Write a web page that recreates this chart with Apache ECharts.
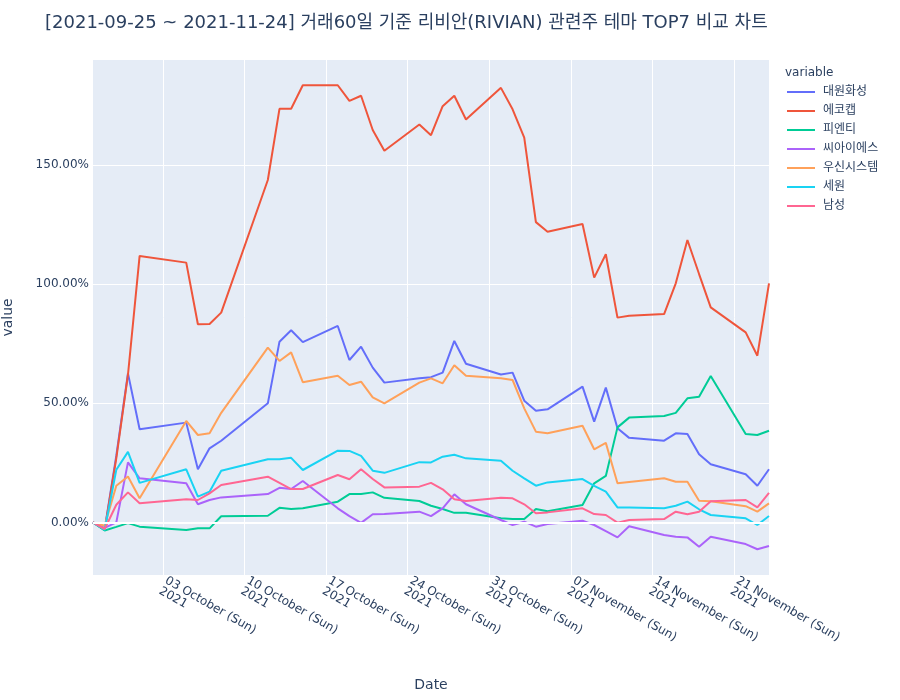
<!DOCTYPE html>
<html>
<head>
<meta charset="utf-8">
<script src="https://cdn.jsdelivr.net/npm/echarts@6/dist/echarts.min.js"></script>
<style>
  html, body { margin: 0; padding: 0; background: #fff; }
  #chart { width: 900px; height: 700px; }
</style>
</head>
<body>
<div id="chart"></div>
<script>
// trading days (KRX), values are % change from the first day
const dates = [
  '2021-09-27', '2021-09-28', '2021-09-29', '2021-09-30', '2021-10-01',
  '2021-10-05', '2021-10-06', '2021-10-07', '2021-10-08', '2021-10-12',
  '2021-10-13', '2021-10-14', '2021-10-15', '2021-10-18', '2021-10-19',
  '2021-10-20', '2021-10-21', '2021-10-22', '2021-10-25', '2021-10-26',
  '2021-10-27', '2021-10-28', '2021-10-29', '2021-11-01', '2021-11-02',
  '2021-11-03', '2021-11-04', '2021-11-05', '2021-11-08', '2021-11-09',
  '2021-11-10', '2021-11-11', '2021-11-12', '2021-11-15', '2021-11-16',
  '2021-11-17', '2021-11-18', '2021-11-19', '2021-11-22', '2021-11-23',
  '2021-11-24'
];

const names = ['대원화성', '에코캡', '피엔티', '씨아이에스', '우신시스템', '세원', '남성'];
const colors = ['#636efa', '#EF553B', '#00cc96', '#ab63fa', '#FFA15A', '#19d3f3', '#FF6692'];

const daewon = [0, -3, 28, 62.6, 39.1, 41.9, 22.3, 31.1, 34.3, 50, 75.9, 80.7, 75.7, 82.5, 68.2,
  73.8, 65, 58.7, 60.5, 61, 62.9, 76.2, 66.6, 62.1, 62.9, 51.1, 46.9, 47.5, 57, 42.3,
  56.6, 39.5, 35.5, 34.3, 37.4, 37.1, 28.6, 24.4, 20.2, 15.4, 22.3];
const ecocab = [0, -3.2, 27, 62, 111.9, 109.1, 83.2, 83.3, 88.1, 143.8, 173.7, 173.7, 183.6, 183.6, 177,
  179.2, 164.8, 156.1, 167.1, 162.6, 174.8, 179.2, 169.2, 182.5, 173.5, 161.6, 126.1, 122.1, 125.3, 102.8,
  112.6, 86, 86.8, 87.5, 100.4, 118.6, 104.3, 90.3, 79.8, 70, 100.4];
const pnt = [0, -3.4, -1.9, -0.3, -1.8, -3.2, -2.5, -2.5, 2.6, 2.8, 6.1, 5.6, 5.9, 8.7, 11.9,
  11.9, 12.6, 10.3, 9, 7, 5.6, 4, 4, 1.7, 1.4, 1.4, 5.6, 4.7, 7.3, 16.4,
  19.5, 39.9, 44, 44.7, 46, 52.1, 52.8, 61.5, 37.1, 36.7, 38.5];
const cis = [0, -2.3, 0, 25.2, 18.5, 16.4, 7.6, 9.4, 10.5, 11.9, 14.5, 14, 17.4, 5.9, 2.6,
  -0.2, 3.4, 3.5, 4.5, 2.6, 5.9, 11.8, 7.6, 1, -1.1, 0.3, -1.8, -0.7, 0.7, -1.1,
  -3.7, -6.3, -1.6, -5.3, -6, -6.3, -10.2, -6, -9.1, -11.3, -9.9];
const wooshin = [0, -1.4, 15.4, 19.3, 10.1, 42.6, 36.7, 37.4, 46, 73.4, 67.8, 71.4, 58.9, 61.6, 57.7,
  59.1, 52.5, 50, 58.7, 60.5, 58.4, 66, 61.6, 60.5, 59.8, 47.9, 38.1, 37.4, 40.6, 30.7,
  33.4, 16.4, 17, 18.5, 17.1, 17.1, 9.1, 8.9, 6.8, 4.5, 8];
const sewon = [0, -3.2, 22.1, 29.6, 16.6, 22.3, 10.8, 12.9, 21.7, 26.5, 26.5, 27.1, 22, 30.1, 30,
  27.9, 21.7, 20.8, 25.3, 25.2, 27.6, 28.4, 26.9, 25.9, 21.7, 18.5, 15.4, 16.8, 18.2, 15.3,
  12.9, 6.3, 6.3, 5.9, 7, 8.7, 5.5, 3.1, 1.7, -1.1, 2.7];
const namsung = [0, -2.8, 7.4, 12.6, 8, 9.7, 9.4, 12.2, 15.7, 19.2, 16.6, 14, 14, 19.9, 18.1,
  22.3, 18.2, 14.7, 15, 16.6, 13.9, 9.7, 9, 10.3, 10.1, 7.6, 3.8, 4.2, 5.9, 3.5,
  3.1, -0.1, 1, 1.4, 4.5, 3.4, 4.5, 8.9, 9.4, 6.3, 12.4];

const seriesValues = [daewon, ecocab, pnt, cis, wooshin, sewon, namsung];

const xTicks = ['2021-10-03', '2021-10-10', '2021-10-17', '2021-10-24', '2021-10-31',
  '2021-11-07', '2021-11-14', '2021-11-21'];
const yTicks = [0, 50, 100, 150];

const months = ['January', 'February', 'March', 'April', 'May', 'June', 'July',
  'August', 'September', 'October', 'November', 'December'];
const days = ['Sun', 'Mon', 'Tue', 'Wed', 'Thu', 'Fri', 'Sat'];

const textColor = '#2a3f5f';
const font = '"DejaVu Sans", "Noto Sans CJK KR", sans-serif';

// local-time timestamp from 'YYYY-MM-DD'
function ts(s) {
  const p = s.split('-').map(Number);
  return new Date(p[0], p[1] - 1, p[2]).getTime();
}

function fmtDate(v) {
  const d = new Date(v);
  const dd = String(d.getDate()).padStart(2, '0');
  return dd + ' ' + months[d.getMonth()] + ' (' + days[d.getDay()] + ')\n' + d.getFullYear();
}

const chart = echarts.init(document.getElementById('chart'));

const series = names.map((n, i) => ({
  name: n,
  type: 'line',
  symbol: 'none',
  z: 3,
  lineStyle: { width: 2, color: colors[i] },
  itemStyle: { color: colors[i] },
  data: dates.map((d, j) => [ts(d), seriesValues[i][j]])
}));

// white zero line under the traces
series.push({
  type: 'line',
  data: [],
  z: 1,
  silent: true,
  markLine: {
    silent: true,
    symbol: 'none',
    label: { show: false },
    lineStyle: { color: '#fff', width: 2, type: 'solid' },
    data: [{ yAxis: 0 }]
  }
});

chart.setOption({
  animation: false,
  color: colors,
  textStyle: { fontFamily: font },
  title: [{
    text: '[2021-09-25 ~ 2021-11-24] 거래60일 기준 리비안(RIVIAN) 관련주 테마 TOP7 비교 차트',
    left: 40,
    top: 9,
    textStyle: { fontSize: 18, fontWeight: 'normal', color: textColor, fontFamily: font }
  }, {
    text: 'variable',
    left: 780,
    top: 62,
    textStyle: { fontSize: 12, fontWeight: 'normal', color: textColor, fontFamily: font }
  }],
  legend: {
    orient: 'vertical',
    left: 782,
    top: 81,
    icon: 'rect',
    itemWidth: 28,
    itemHeight: 2,
    itemGap: 7,
    data: names,
    textStyle: { fontSize: 12, color: textColor, fontFamily: font, padding: [0, 0, 0, 3] }
  },
  grid: {
    left: 93, right: 131, top: 60, bottom: 125,
    outerBoundsMode: 'none',
    containLabel: false,
    backgroundColor: '#E5ECF6', show: true, borderWidth: 0
  },
  xAxis: {
    type: 'value',
    min: ts('2021-09-27'),
    max: ts('2021-11-24'),
    name: 'Date',
    nameLocation: 'middle',
    nameGap: 103,
    nameTextStyle: { fontSize: 14, color: textColor },
    axisLine: { show: false },
    axisTick: { show: false, customValues: xTicks.map(ts) },
    splitLine: { show: true, lineStyle: { color: '#fff', width: 1 } },
    axisLabel: {
      customValues: xTicks.map(ts),
      rotate: -30,
      fontSize: 12,
      color: textColor,
      margin: 10,
      formatter: fmtDate
    }
  },
  yAxis: {
    type: 'value',
    min: -22.1,
    max: 194.2,
    name: 'value',
    nameLocation: 'middle',
    nameGap: 78,
    nameTextStyle: { fontSize: 14, color: textColor },
    axisLine: { show: false },
    axisTick: { show: false, customValues: yTicks },
    splitLine: { show: true, lineStyle: { color: '#fff', width: 1 } },
    axisLabel: {
      customValues: yTicks,
      fontSize: 12,
      color: textColor,
      margin: 4,
      formatter: v => v.toFixed(2) + '%'
    }
  },
  series: series
});
</script>
</body>
</html>
